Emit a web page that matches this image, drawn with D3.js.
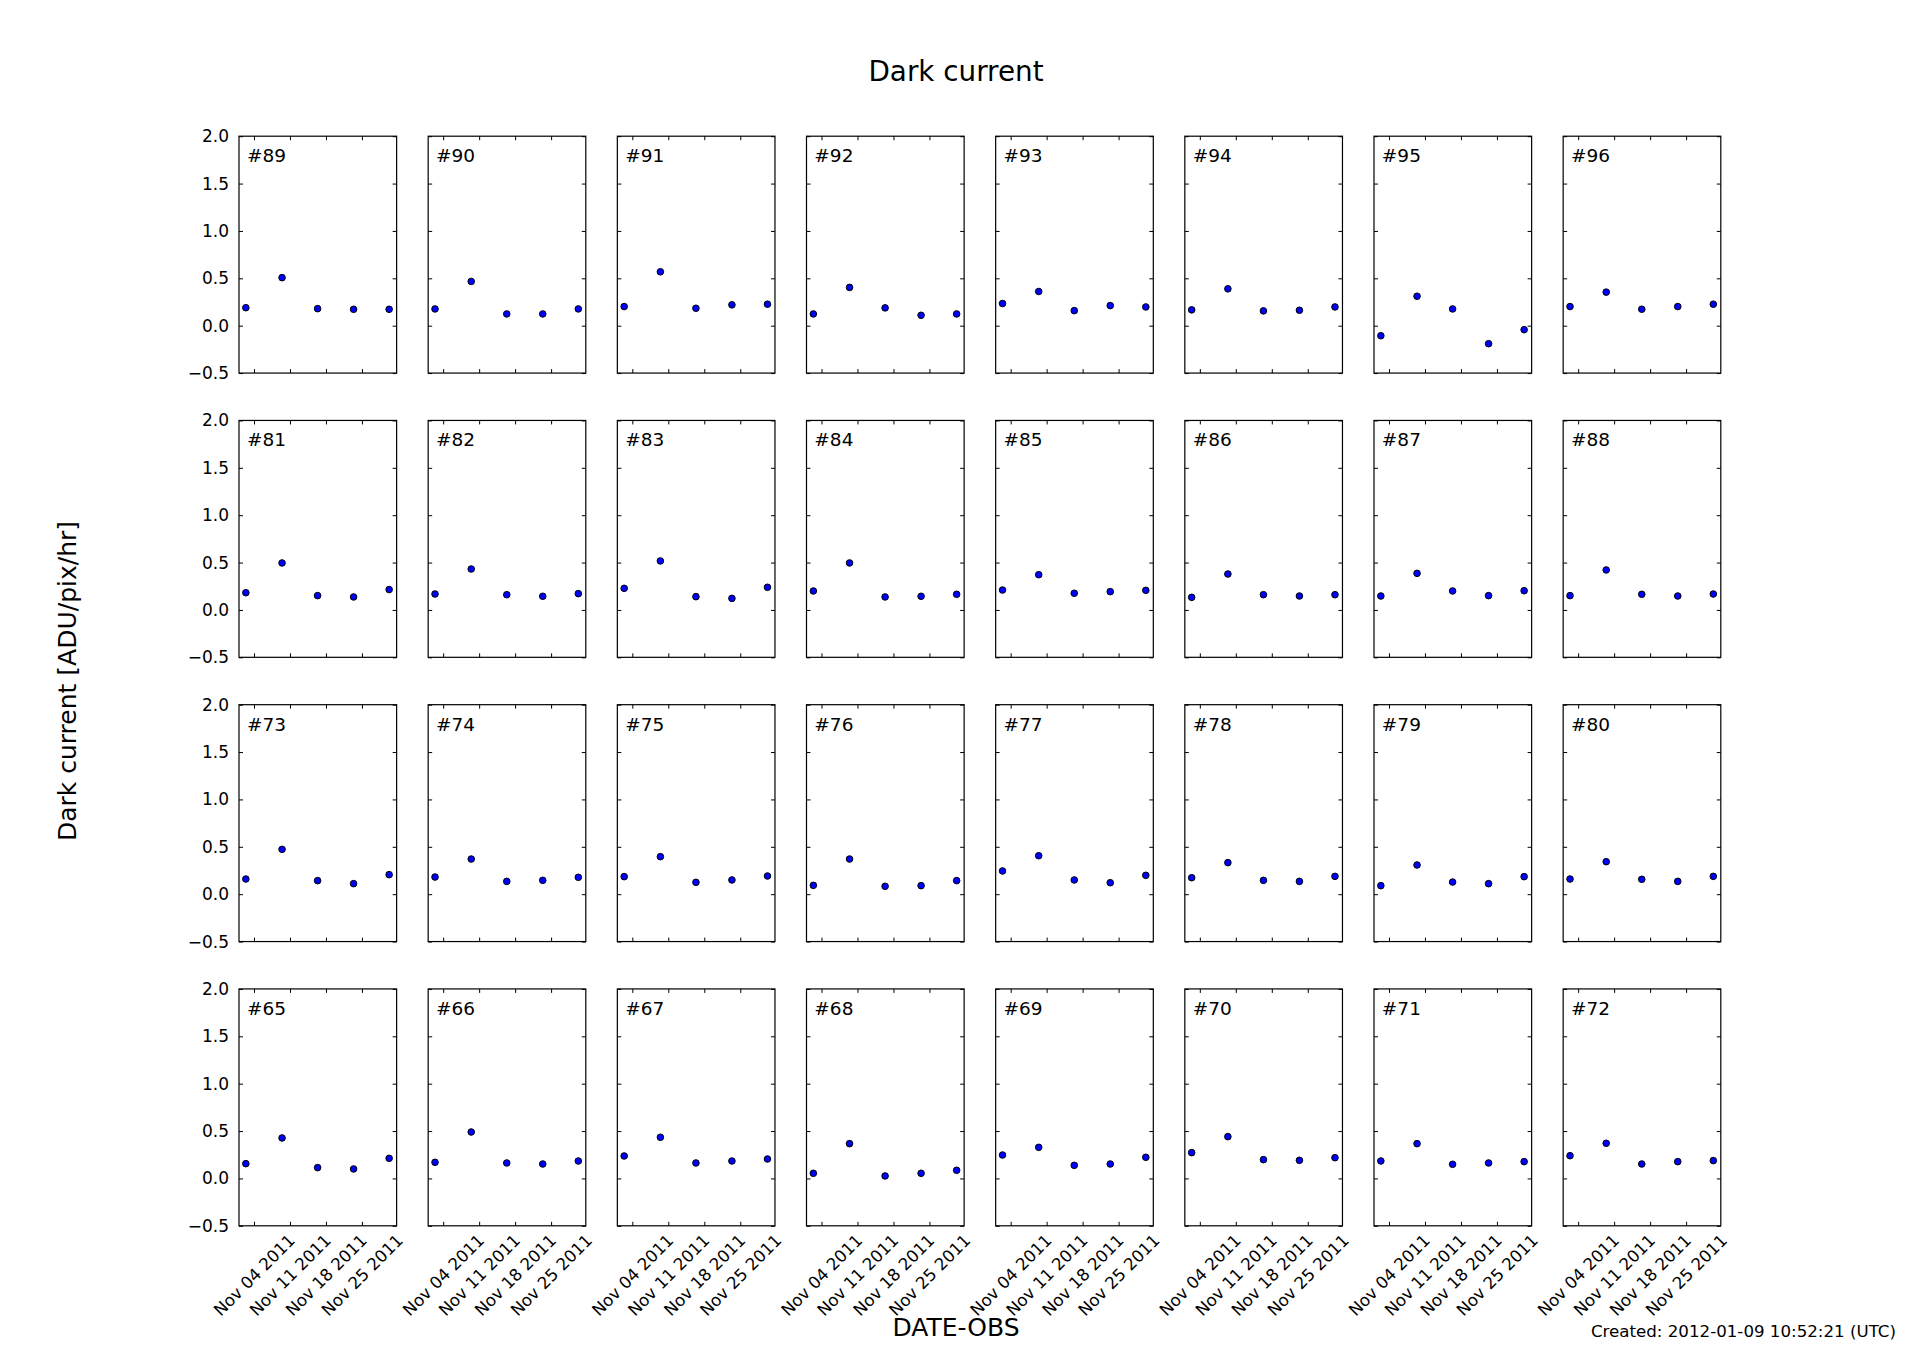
<!DOCTYPE html>
<html>
<head>
<meta charset="utf-8">
<script src="https://cdn.jsdelivr.net/npm/d3@7"></script>
<style>
  html, body { margin: 0; padding: 0; background: #fff; }
  svg { display: block; font-family: "DejaVu Sans", sans-serif; }
</style>
</head>
<body>
<svg id="chart" width="1912" height="1362"></svg>
<script>
// ---- data ----
const obsDates = ["2011-11-02T10:00:00Z", "2011-11-09T11:00:00Z", "2011-11-16T09:00:00Z", "2011-11-23T09:00:00Z", "2011-11-30T07:00:00Z"];
const xDomain = ["2011-11-01T02:00:00Z", "2011-12-01T18:00:00Z"];
const xTickDates = ["2011-11-04T00:00:00Z", "2011-11-11T00:00:00Z", "2011-11-18T00:00:00Z", "2011-11-25T00:00:00Z"];
const yTicks = [-0.5, 0.0, 0.5, 1.0, 1.5, 2.0];
const yDomain = [-0.5, 2.0];
const chipIds = [89, 90, 91, 92, 93, 94, 95, 96,
                 81, 82, 83, 84, 85, 86, 87, 88,
                 73, 74, 75, 76, 77, 78, 79, 80,
                 65, 66, 67, 68, 69, 70, 71, 72];
const darkCurrent = [
  [0.19, 0.507, 0.18, 0.173, 0.173],
  [0.177, 0.467, 0.124, 0.124, 0.177],
  [0.202, 0.569, 0.184, 0.22, 0.227],
  [0.124, 0.404, 0.188, 0.11, 0.124],
  [0.234, 0.361, 0.159, 0.212, 0.198],
  [0.167, 0.389, 0.156, 0.163, 0.198],
  [-0.106, 0.311, 0.177, -0.19, -0.042],
  [0.202, 0.354, 0.174, 0.202, 0.227],
  [0.182, 0.496, 0.151, 0.137, 0.215],
  [0.168, 0.432, 0.161, 0.144, 0.172],
  [0.228, 0.517, 0.140, 0.122, 0.239],
  [0.200, 0.496, 0.137, 0.144, 0.165],
  [0.210, 0.372, 0.176, 0.193, 0.207],
  [0.133, 0.379, 0.161, 0.147, 0.161],
  [0.147, 0.386, 0.200, 0.151, 0.203],
  [0.151, 0.422, 0.165, 0.147, 0.168],
  [0.160, 0.473, 0.143, 0.111, 0.206],
  [0.181, 0.371, 0.135, 0.146, 0.178],
  [0.185, 0.396, 0.125, 0.150, 0.192],
  [0.093, 0.371, 0.083, 0.090, 0.143],
  [0.245, 0.406, 0.150, 0.121, 0.199],
  [0.174, 0.333, 0.146, 0.135, 0.188],
  [0.090, 0.308, 0.128, 0.111, 0.185],
  [0.160, 0.343, 0.157, 0.135, 0.188],
  [0.156, 0.427, 0.114, 0.100, 0.212],
  [0.170, 0.490, 0.163, 0.152, 0.184],
  [0.237, 0.434, 0.163, 0.184, 0.205],
  [0.054, 0.367, 0.026, 0.054, 0.086],
  [0.247, 0.328, 0.138, 0.152, 0.223],
  [0.272, 0.441, 0.198, 0.191, 0.219],
  [0.184, 0.367, 0.149, 0.163, 0.177],
  [0.240, 0.371, 0.152, 0.177, 0.188]
];
const titleText = "Dark current";
const yLabelText = "Dark current [ADU/pix/hr]";
const xLabelText = "DATE-OBS";
const createdText = "Created: 2012-01-09 10:52:21 (UTC)";

// ---- layout (matplotlib-like subplot grid) ----
const W = 1912, H = 1362;
const nRows = 4, nCols = 8;
const gLeft = 0.125 * W, gRight = 0.9 * W, gTop = 0.1 * H, gBottom = 0.9 * H;
const wspace = 0.2, hspace = 0.2;
const pw = (gRight - gLeft) / (nCols + (nCols - 1) * wspace);
const ph = (gBottom - gTop) / (nRows + (nRows - 1) * hspace);
const tickLen = 4;
const tickFont = 17;

const svg = d3.select("#chart");
const parse = d => new Date(d);

const x = d3.scaleUtc().domain(xDomain.map(parse)).range([0, pw]);
const y = d3.scaleLinear().domain(yDomain).range([ph, 0]);
const fmtY = d3.format(".1f");
const fmtX = d3.utcFormat("%b %d %Y");
const xt = xTickDates.map(parse);

chipIds.forEach((id, i) => {
  const r = Math.floor(i / nCols), c = i % nCols;
  const ox = gLeft + c * pw * (1 + wspace);
  const oy = gTop + r * ph * (1 + hspace);
  const g = svg.append("g").attr("transform", `translate(${ox},${oy})`);

  // ticks inside on all four sides
  const yL = d3.axisLeft(y).tickValues(yTicks).tickSizeInner(-tickLen).tickSizeOuter(0)
    .tickFormat(c === 0 ? fmtY : "").tickPadding(tickLen + 6);
  const yR = d3.axisRight(y).tickValues(yTicks).tickSizeInner(-tickLen).tickSizeOuter(0).tickFormat("");
  const xB = d3.axisBottom(x).tickValues(xt).tickSizeInner(-tickLen).tickSizeOuter(0).tickFormat("");
  const xT = d3.axisTop(x).tickValues(xt).tickSizeInner(-tickLen).tickSizeOuter(0).tickFormat("");

  const ay = g.append("g").call(yL);
  g.append("g").attr("transform", `translate(${pw},0)`).call(yR);
  const ax = g.append("g").attr("transform", `translate(0,${ph})`).call(xB);
  g.append("g").call(xT);

  g.selectAll(".domain").remove();
  g.selectAll(".tick line").attr("stroke", "#000").attr("stroke-width", 1);
  ay.selectAll(".tick text").attr("font-size", tickFont).attr("fill", "#000")
    .attr("font-family", "DejaVu Sans");

  // rotated date labels on the bottom row
  if (r === nRows - 1) {
    const lab = ax.selectAll(".tick").append("text")
      .attr("font-size", 16.67).attr("font-family", "DejaVu Sans").attr("fill", "#000")
      .attr("text-anchor", "middle").attr("dominant-baseline", "central")
      .text(d => fmtX(d));
    lab.each(function () {
      const w = this.getComputedTextLength();
      const hh = 16.67;
      const half = (w + hh) * Math.SQRT1_2 / 2;
      d3.select(this).attr("transform", `translate(0,${6 + half}) rotate(-45)`);
    });
  }

  // frame
  g.append("rect").attr("width", pw).attr("height", ph)
    .attr("fill", "none").attr("stroke", "#000").attr("stroke-width", 1.2);

  // points
  g.selectAll("circle.pt").data(darkCurrent[i]).join("circle")
    .attr("class", "pt")
    .attr("cx", (d, k) => x(parse(obsDates[k])))
    .attr("cy", d => y(d))
    .attr("r", 3.3)
    .attr("fill", "#0000ff").attr("stroke", "#000").attr("stroke-width", 1);

  // chip label
  g.append("text").attr("x", 0.05 * pw).attr("y", 0.05 * ph + 14)
    .attr("font-size", 18.5).attr("fill", "#000").text("#" + id);
});

// titles
svg.append("text").attr("x", W / 2).attr("y", 81).attr("text-anchor", "middle")
  .attr("font-size", 27.8).attr("fill", "#000").text(titleText);
svg.append("text").attr("transform", `translate(76,${(gTop + gBottom) / 2}) rotate(-90)`)
  .attr("text-anchor", "middle").attr("font-size", 25).attr("fill", "#000").text(yLabelText);
svg.append("text").attr("x", W / 2).attr("y", 1336).attr("text-anchor", "middle")
  .attr("font-size", 25).attr("fill", "#000").text(xLabelText);
svg.append("text").attr("x", 1896).attr("y", 1337).attr("text-anchor", "end")
  .attr("font-size", 16.67).attr("fill", "#000").text(createdText);
</script>
</body>
</html>
